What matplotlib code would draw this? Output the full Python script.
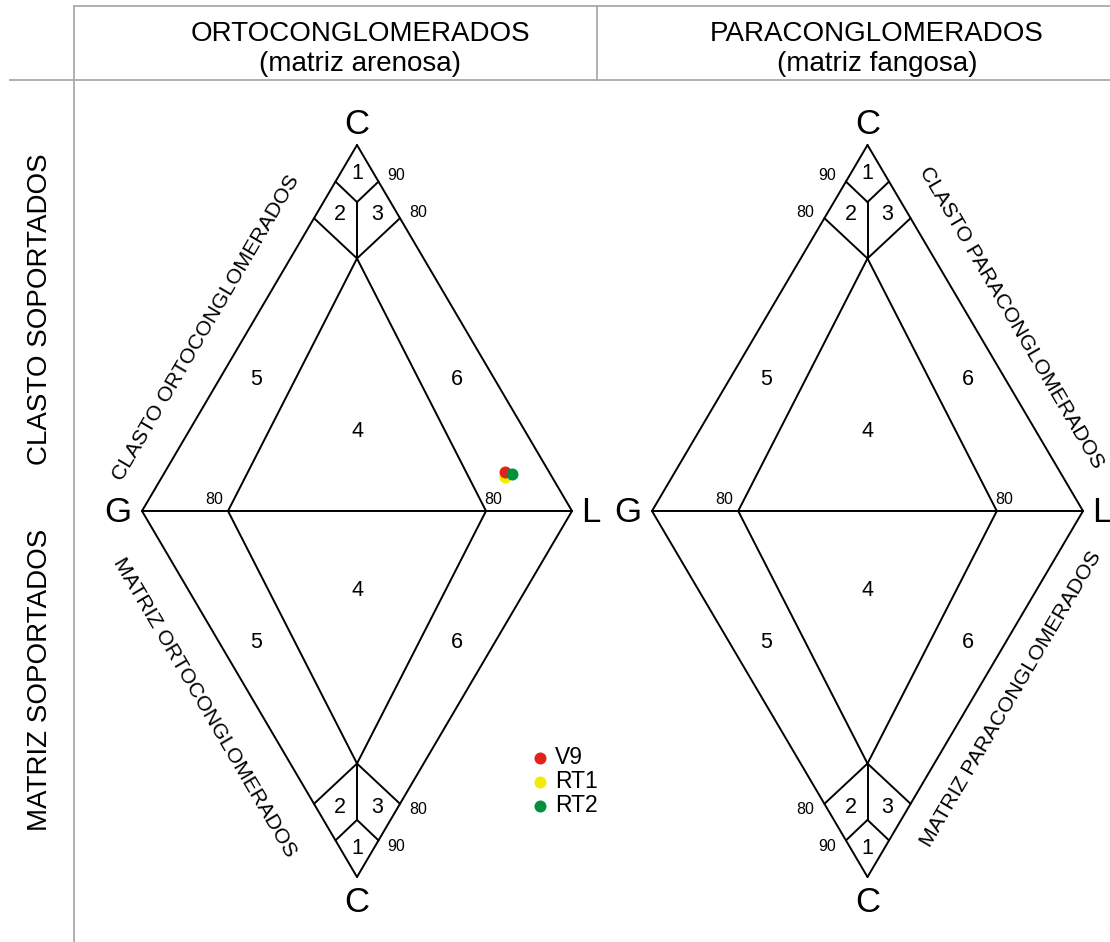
import matplotlib
matplotlib.use("Agg")
import matplotlib.pyplot as plt

plt.rcParams['font.family'] = ['Liberation Sans', 'DejaVu Sans']

# sample compositions (C, G, L) as fractions
samples = ['V9', 'RT1', 'RT2']
comp_C = [0.106, 0.092, 0.100]
comp_G = [0.103, 0.110, 0.090]
comp_L = [0.791, 0.798, 0.810]
colors = ['#e2231a', '#f4ec00', '#00913f']
draw_order = [1, 0, 2]  # yellow under red, green on top

# diagram divisions (C, G, L)
inner_apex = (0.69, 0.155, 0.155)
v90_junction = (0.844, 0.078, 0.078)

headers = [('ORTOCONGLOMERADOS', '(matriz arenosa)'),
           ('PARACONGLOMERADOS', '(matriz fangosa)')]
side_labels = ['CLASTO SOPORTADOS', 'MATRIZ SOPORTADOS']
edge_labels = [('CLASTO ORTOCONGLOMERADOS', 'MATRIZ ORTOCONGLOMERADOS'),
               ('CLASTO PARACONGLOMERADOS', 'MATRIZ PARACONGLOMERADOS')]

# field numbers (label, C, G, L)
fields = [('1', 0.923, 0.038, 0.039), ('2', 0.809, 0.135, 0.056),
          ('3', 0.809, 0.049, 0.142), ('4', 0.216, 0.392, 0.392),
          ('5', 0.358, 0.556, 0.086), ('6', 0.358, 0.088, 0.554)]

# diamonds: G vertex position (px), width, height
diamonds = [(142, 511, 430, 366), (652, 511, 431, 366)]

fig = plt.figure(figsize=(11.1, 9.42), dpi=100)
ax = fig.add_axes([0, 0, 1, 1])
ax.set_xlim(0, 1110)
ax.set_ylim(942, 0)
ax.axis('off')


def tern(d, c, g, l, s=1):
    gx, gy, w, h = d
    tot = c + g + l
    c, l = c / tot, l / tot
    return gx + w * (l + c / 2), gy - s * h * c


def seg(d, p, q, s):
    x0, y0 = tern(d, *p, s=s)
    x1, y1 = tern(d, *q, s=s)
    ax.plot([x0, x1], [y0, y1], color='black', lw=1.4, solid_capstyle='round')


# frame lines
grey = '#aaaaaa'
ax.plot([74, 1110], [6, 6], color=grey, lw=1.3)
ax.plot([10, 1110], [80, 80], color=grey, lw=1.3)
ax.plot([74, 74], [6, 942], color=grey, lw=1.3)
ax.plot([597, 597], [6, 80], color=grey, lw=1.3)

for k, (t1, t2) in enumerate(headers):
    cx = 360 if k == 0 else 877
    ax.text(cx, 34, t1, ha='center', va='center', fontsize=20)
    ax.text(cx, 64, t2, ha='center', va='center', fontsize=20)

ax.text(40, 309, side_labels[0], ha='center', va='center', rotation=90, fontsize=20)
ax.text(40, 680, side_labels[1], ha='center', va='center', rotation=90, fontsize=20)

Cv, Gv, Lv = (1, 0, 0), (0, 1, 0), (0, 0, 1)
for k, d in enumerate(diamonds):
    seg(d, Gv, Lv, 1)
    for s in (1, -1):
        seg(d, Gv, Cv, s)
        seg(d, Lv, Cv, s)
        seg(d, (0, 0.8, 0.2), inner_apex, s)
        seg(d, (0, 0.2, 0.8), inner_apex, s)
        seg(d, (0.8, 0.2, 0), inner_apex, s)
        seg(d, (0.8, 0, 0.2), inner_apex, s)
        seg(d, (0.9, 0.1, 0), v90_junction, s)
        seg(d, (0.9, 0, 0.1), v90_junction, s)
        seg(d, v90_junction, inner_apex, s)
        for lab, c, g, l in fields:
            x, y = tern(d, c, g, l, s)
            ax.text(x, y, lab, ha='center', va='center', fontsize=15.5)

    # vertex letters
    x, y = tern(d, *Cv, s=1)
    ax.text(x, y - 21, 'C', ha='center', va='center', fontsize=25)
    x, y = tern(d, *Cv, s=-1)
    ax.text(x, y + 26, 'C', ha='center', va='center', fontsize=25)
    x, y = tern(d, *Gv)
    ax.text(x - 24, y + 2, 'G', ha='center', va='center', fontsize=25)
    x, y = tern(d, *Lv)
    ax.text(x + 19, y + 2, 'L', ha='center', va='center', fontsize=25)

    # 80 ticks on G-L
    x, y = tern(d, 0, 0.8, 0.2)
    ax.text(x - 14, y - 11, '80', ha='center', va='center', fontsize=11.5)
    x, y = tern(d, 0, 0.2, 0.8)
    ax.text(x + 7, y - 11, '80', ha='center', va='center', fontsize=11.5)
    # 90 / 80 ticks on C edges
    dx = 18 if k == 0 else -19
    for s in (1, -1):
        for cval, lab in ((0.9, '90'), (0.8, '80')):
            r = 1 - cval
            g = r if k == 1 else 0
            l = r if k == 0 else 0
            x, y = tern(d, cval, g, l, s)
            ax.text(x + dx, y - 6 * s, lab, ha='center', va='center', fontsize=11.5)

# edge labels
ax.text(206, 328, edge_labels[0][0], ha='center', va='center', rotation=59.6, fontsize=15.3)
ax.text(205, 707, edge_labels[0][1], ha='center', va='center', rotation=-59.6, fontsize=15.3)
ax.text(1011, 318, edge_labels[1][0], ha='center', va='center', rotation=-59.6, fontsize=15.3)
ax.text(1011, 699, edge_labels[1][1], ha='center', va='center', rotation=59.6, fontsize=15.3)

# samples
for i in draw_order:
    x, y = tern(diamonds[0], comp_C[i], comp_G[i], comp_L[i], 1)
    ax.scatter([x], [y], s=75, color=colors[i], zorder=5, linewidths=0)

# legend
for i, name in enumerate(samples):
    ly = 758 + 24 * i
    ax.scatter([540], [ly], s=75, color=colors[i], linewidths=0)
    ax.text(555, ly, name, ha='left', va='center', fontsize=16.5)

fig.savefig('out.png', dpi=100)
